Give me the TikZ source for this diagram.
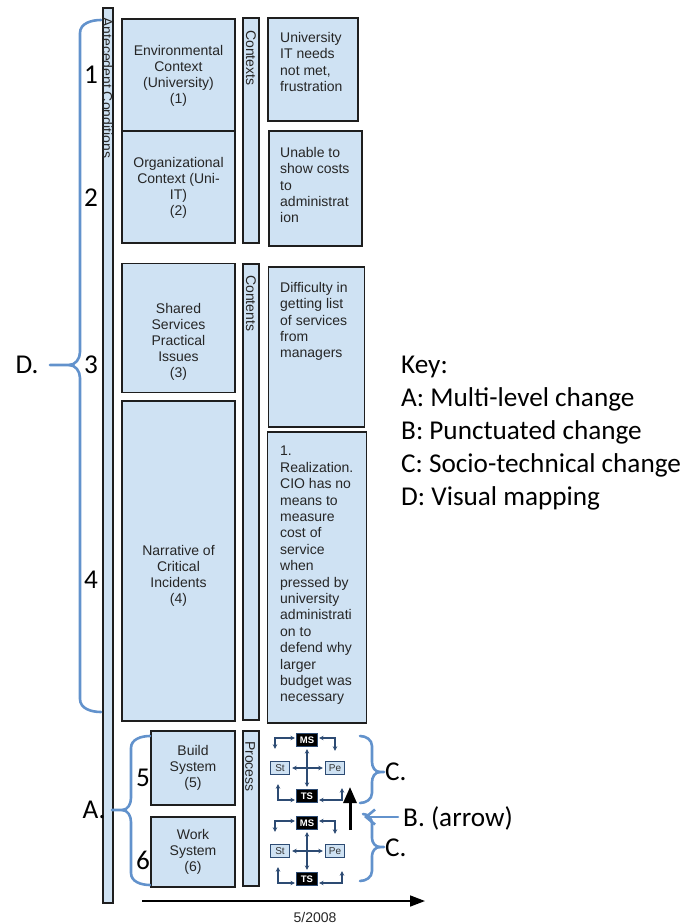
\documentclass[tikz,border=0pt]{standalone}
\usepackage{fontspec}
\setmainfont{Liberation Sans}
\newfontfamily\keyfont{Carlito}
\usepackage{tikz}
\usetikzlibrary{arrows.meta}
\definecolor{boxblue}{RGB}{207,226,243}
\definecolor{braceblue}{RGB}{98,146,204}
\definecolor{navy}{RGB}{45,75,115}
\definecolor{frame}{RGB}{30,30,30}
\tikzset{
  panel/.style={draw=frame, fill=boxblue, line width=1.8pt, inner sep=0pt},
  boxtext/.style={font=\fontsize{14}{16}\selectfont, text=black!85, align=center, inner sep=0pt},
  notetext/.style={font=\fontsize{14}{16.4}\selectfont, text=black!85, align=left, anchor=north west, inner sep=0pt},
  bartext/.style={font=\fontsize{14}{15}\selectfont, text=black!85, rotate=-90, anchor=west, inner sep=0pt},
  bigtext/.style={font=\keyfont\fontsize{27.2}{33}\selectfont, inner sep=0pt},
  brace/.style={draw=braceblue, line width=2.6pt, line cap=round},
  dkbox/.style={draw=navy, fill=black, text=white, line width=1.2pt, font=\fontsize{9.5}{10}\selectfont\bfseries, minimum width=21pt, minimum height=13pt, inner sep=0pt},
  ltbox/.style={draw=navy, fill=boxblue, text=black!80, line width=1.4pt, font=\fontsize{10}{10}\selectfont, minimum width=19pt, minimum height=13pt, inner sep=0pt},
  sarr/.style={draw=navy, line width=1.3pt, {Stealth[length=4.5pt,width=4.5pt]}-{Stealth[length=4.5pt,width=4.5pt]}}
}

\begin{document}
\begin{tikzpicture}[x=1pt,y=-1pt]
		%%%%% START %%%%%
		\useasboundingbox (0,0) rectangle (690,924);
		
		% long bar on the left
		\node[panel, minimum width=10pt, minimum height=895pt] (ante) at (108,455.5) {};
		\node[bartext] (antetxt) at (107.5,17) {Antecedent Conditions};
		
		% left column
		\node[panel, minimum width=113pt, minimum height=112pt] (env) at (178.5,75) {};
		\node[panel, minimum width=113pt, minimum height=112pt] (org) at (178.5,187) {};
		\node[panel, minimum width=113pt, minimum height=129pt] (shared) at (178.5,328) {};
		\node[panel, minimum width=113pt, minimum height=320pt] (narr) at (178.5,561) {};
		\node[panel, minimum width=84pt, minimum height=74pt] (build) at (193,768) {};
		\node[panel, minimum width=84pt, minimum height=70pt] (work) at (193,852) {};
		
		\node[boxtext] (envtxt) at (178.5,75.5) {Environmental\\Context\\(University)\\(1)};
		\node[boxtext] (orgtxt) at (178.5,187.5) {Organizational\\Context (Uni-\\IT)\\(2)};
		\node[boxtext] (sharedtxt) at (178.5,342) {Shared\\Services\\Practical\\Issues\\(3)};
		\node[boxtext] (narrtxt) at (178.5,576) {Narrative of\\Critical\\Incidents\\(4)};
		\node[boxtext] (buildtxt) at (193,768) {Build\\System\\(5)};
		\node[boxtext] (worktxt) at (193,852) {Work\\System\\(6)};
		
		% narrow bars
		\node[panel, minimum width=16pt, minimum height=225pt] (contexts) at (251,130.5) {};
		\node[panel, minimum width=16pt, minimum height=456pt] (contents) at (251,492) {};
		\node[panel, minimum width=16pt, minimum height=155pt] (process) at (251,808.5) {};
		\node[bartext] (contextstxt) at (251,30) {Contexts};
		\node[bartext] (contentstxt) at (251,275) {Contents};
		\node[bartext] (processtxt) at (250,741) {Process};
		
		% right column
		\node[panel, minimum width=90pt, minimum height=103pt] (univ) at (313,69.5) {};
		\node[panel, minimum width=93pt, minimum height=115pt] (unable) at (315.5,188.5) {};
		\node[panel, minimum width=96pt, minimum height=160pt] (diff) at (316.5,347) {};
		\node[panel, minimum width=99pt, minimum height=291pt] (real) at (317,577.5) {};
		
		\node[notetext] (univtxt) at (280,32) {University\\IT needs\\not met,\\frustration};
		\node[notetext] (unabletxt) at (280,147) {Unable to\\show costs\\to\\administrat\\ion};
		\node[notetext] (difftxt) at (280,282) {Difficulty in\\getting list\\of services\\from\\managers};
		\node[notetext] (realtxt) at (280,446) {1.\\Realization.\\CIO has no\\means to\\measure\\cost of\\service\\when\\pressed by\\university\\administrati\\on to\\defend why\\larger\\budget was\\necessary};
		
		% small socio-technical diagrams
		\foreach \s/\dy in {a/0,b/83}{
			\node[dkbox] (ms\s) at (307,{740+\dy}) {MS};
			\node[ltbox] (st\s) at (280,{768+\dy}) {St};
			\node[ltbox] (pe\s) at (335,{768+\dy}) {Pe};
			\node[dkbox] (ts\s) at (307,{796+\dy}) {TS};
			\draw[sarr, shorten <=2pt, shorten >=2pt] (ms\s) -- (ts\s);
			\draw[sarr, shorten <=2pt, shorten >=2pt] (st\s) -- (pe\s);
			\draw[sarr, shorten <=1pt] ([yshift=2pt]ms\s.west) -| ([xshift=-5pt,yshift=12pt]st\s.north);
			\draw[sarr, shorten <=1pt] ([yshift=2pt]ms\s.east) -| ([yshift=10pt]pe\s.north);
			\draw[sarr, shorten >=1pt] ([xshift=-2pt,yshift=-9pt]st\s.south) |- ([yshift=-4pt]ts\s.west);
			\draw[sarr, shorten <=1pt] ([yshift=-4pt]ts\s.east) -| ([xshift=7pt,yshift=-13pt]pe\s.south);
		}
		
		% punctuated change arrow
		\coordinate (bfrom) at (350,830);
		\coordinate (bto) at (350,787);
		\draw[line width=3pt, -{Triangle[length=16pt,width=13pt]}] (bfrom) -- (bto);
		
		% time line
		\coordinate (tlstart) at (142,901);
		\coordinate (tlend) at (425,901);
		\draw[line width=1.6pt, -{Triangle[length=15pt,width=11pt]}] (tlstart) -- (tlend);
		\node[boxtext] (date) at (315,917) {5/2008};
		
		% braces
		\draw[brace] (101,20) to[out=180,in=90] (80,33) -- (80,352) to[out=-90,in=0] (69,365) -- (50,365);
		\draw[brace] (69,365) to[out=0,in=90] (80,378) -- (80,699) to[out=-90,in=180] (101,712);
		\draw[brace] (150,736) to[out=180,in=90] (131,748) -- (131,798) to[out=-90,in=0] (122,810) -- (112,810);
		\draw[brace] (122,810) to[out=0,in=90] (131,822) -- (131,873) to[out=-90,in=180] (150,885);
		\draw[brace] (360,736) to[out=0,in=90] (372,746) -- (372,762) to[out=-90,in=180] (380,772) -- (384,772);
		\draw[brace] (380,772) to[out=180,in=90] (372,782) -- (372,793) to[out=-90,in=0] (360,803);
		\draw[brace] (363,814) to[out=0,in=90] (372,824) -- (372,838) to[out=-90,in=180] (380,847) -- (384,847);
		\draw[brace] (380,847) to[out=180,in=90] (372,856) -- (372,871) to[out=-90,in=0] (360,881);
		\coordinate (bfree) at (398,817);
		\coordinate (btip) at (364,817);
		\draw[brace, -{Straight Barb[length=9pt,width=15pt]}] (bfree) -- (btip);
		
		% labels
		\node[bigtext] (n1) at (91,75) {1};
		\node[bigtext] (n2) at (91,198) {2};
		\node[bigtext] (n3) at (91,365) {3};
		\node[bigtext] (n4) at (91,580) {4};
		\node[bigtext] (n5) at (143,778) {5};
		\node[bigtext] (n6) at (143,860) {6};
		\node[bigtext] (labd) at (27,365) {D.};
		\node[bigtext] (laba) at (94,810) {A.};
		\node[bigtext, anchor=west] (labc1) at (385,772) {C.};
		\node[bigtext, anchor=west] (labc2) at (385,848) {C.};
		\node[bigtext, anchor=west] (labb) at (403,818) {B. (arrow)};
		\node[bigtext, anchor=north west, align=left] (key) at (401,356) {Key:\\A: Multi-level change\\B: Punctuated change\\C: Socio-technical change\\D: Visual mapping};
		%%%%% END %%%%%
\end{tikzpicture}
\end{document}
